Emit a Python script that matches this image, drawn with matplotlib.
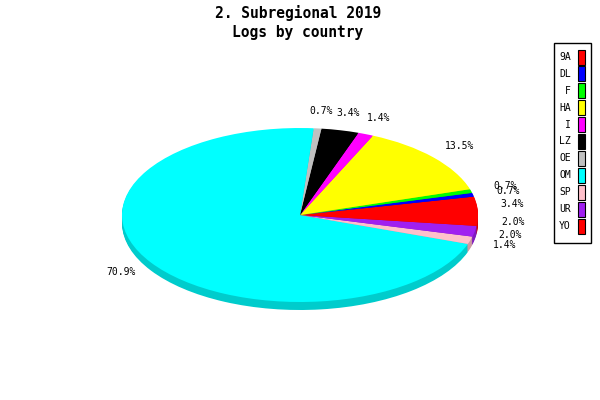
import matplotlib
matplotlib.use("Agg")
import matplotlib.pyplot as plt
from matplotlib.patches import Rectangle
from matplotlib.colors import to_rgb

# slices, counter-clockwise from 3 o'clock
countries = ["9A", "DL", "F", "HA", "I", "LZ", "OE", "OM", "SP", "UR", "YO"]
shares = [3.4, 0.7, 0.7, 13.5, 1.4, 3.4, 0.7, 70.9, 1.4, 2.0, 2.0]
colors = ["#ff0000", "#0000ff", "#00ff00", "#ffff00", "#ff00ff", "#000000",
          "#c0c0c0", "#00ffff", "#ffc0cb", "#a020f0", "#ff0000"]
title = "2. Subregional 2019\nLogs by country"

W, H = 600, 400
mono = "DejaVu Sans Mono"


def fbox(x0, y0, x1, y1):
    # pixel box (top-left origin) -> figure fraction
    return [x0 / W, 1 - y1 / H, (x1 - x0) / W, (y1 - y0) / H]


fig = plt.figure(figsize=(6, 4), dpi=100)
fig.patch.set_facecolor("white")

# pie top face spans x 122..478, y 128..302
ax = fig.add_axes(fbox(122, 128, 478, 302))
dark = [tuple(c * 0.8 for c in to_rgb(col)) for col in colors]
depth = 8
for k in range(depth, 0, -1):
    ax.pie(shares, colors=dark, startangle=0, center=(0, -k * 2 / 174),
           wedgeprops=dict(linewidth=0, clip_on=False))

labels = [f"{v:.1f}%" for v in shares]
wedges, texts = ax.pie(shares, colors=colors, startangle=0, labels=labels,
                       labeldistance=1.2,
                       wedgeprops=dict(linewidth=0, clip_on=False),
                       textprops=dict(family=mono, fontsize=7))
for t in texts:
    t.set_ha("center")
    t.set_va("center")
ax.set_xlim(-1, 1)
ax.set_ylim(-1, 1)
ax.set_aspect("auto")
ax.axis("off")

fig.text(298 / W, 1 - 13 / H, title.split("\n")[0], ha="center", va="center",
         family=mono, fontweight="bold", fontsize=10.5)
fig.text(298 / W, 1 - 32 / H, title.split("\n")[1], ha="center", va="center",
         family=mono, fontweight="bold", fontsize=10.5)

# legend box on the right
lax = fig.add_axes([0, 0, 1, 1])
lax.set_xlim(0, W)
lax.set_ylim(H, 0)
lax.axis("off")
lax.add_patch(Rectangle((553.5, 42.5), 37, 200, fill=False, edgecolor="black", linewidth=1))
for i, (name, col) in enumerate(zip(countries, colors)):
    y = 57 + i * 16.9
    lax.text(571, y, name, ha="right", va="center", family=mono, fontsize=7)
    lax.add_patch(Rectangle((578, y - 7.5), 7, 15, facecolor=col,
                            edgecolor="black", linewidth=0.8))

fig.savefig("out.png", dpi=100)
